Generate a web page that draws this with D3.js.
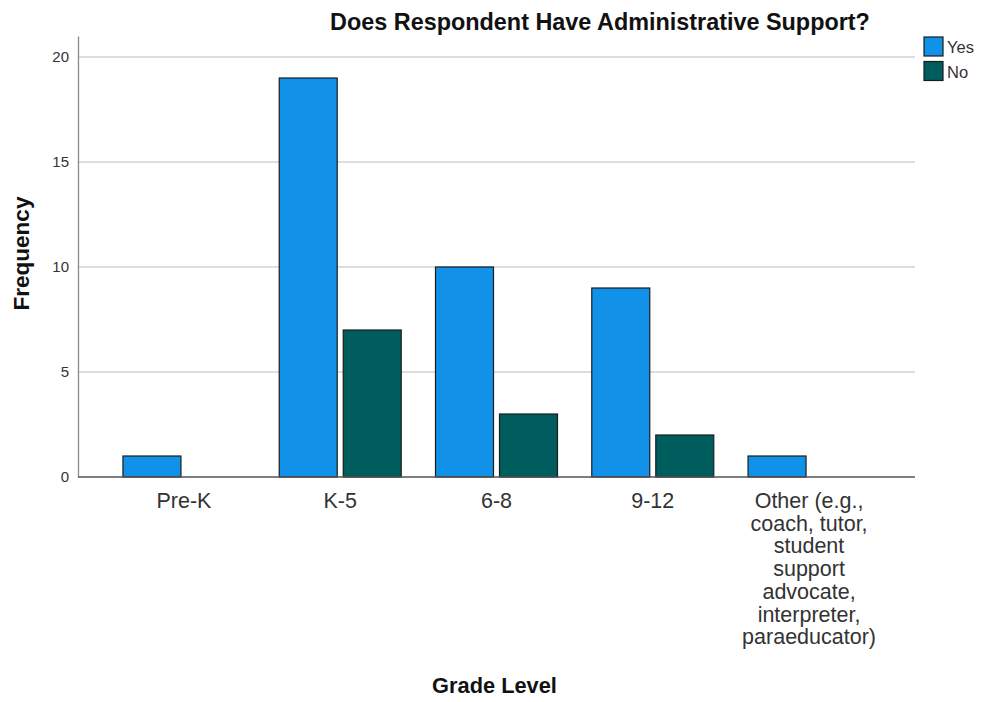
<!DOCTYPE html>
<html>
<head>
<meta charset="utf-8">
<script src="https://cdn.jsdelivr.net/npm/d3@7"></script>
<style>
  html, body { margin: 0; padding: 0; background: #fff; }
  svg { display: block; font-family: Arial, "Liberation Sans", sans-serif; }
</style>
</head>
<body>
<svg id="chart" width="983" height="702"></svg>
<script>
// Grade levels and counts per response
const categories = [
  "Pre-K",
  "K-5",
  "6-8",
  "9-12",
  "Other (e.g., coach, tutor, student support advocate, interpreter, paraeducator)"
];
const categoryLines = [
  ["Pre-K"],
  ["K-5"],
  ["6-8"],
  ["9-12"],
  ["Other (e.g.,", "coach, tutor,", "student", "support", "advocate,", "interpreter,", "paraeducator)"]
];
const seriesNames = ["Yes", "No"];
const yesValues = [1, 19, 10, 9, 1];
const noValues = [0, 7, 3, 2, 0];
const yTicks = [0, 5, 10, 15, 20];
const colors = { Yes: "#1192e8", No: "#005d5d" };

const svg = d3.select("#chart");
const margin = { left: 78, right: 68, top: 36, bottom: 225 };
const W = 983, H = 702;
const plotLeft = margin.left, plotRight = W - margin.right;
const plotTop = margin.top, plotBottom = H - margin.bottom;

const x = d3.scalePoint().domain(categories).range([plotLeft, plotRight]).padding(0.678);
const inner = d3.scaleBand().domain(seriesNames).range([-61, 61]).paddingInner(0.094);
const y = d3.scaleLinear().domain([0, 21]).range([plotBottom, plotTop]);

// gridlines
svg.append("g")
  .selectAll("line")
  .data(yTicks.filter(d => d > 0))
  .join("line")
  .attr("x1", plotLeft).attr("x2", plotRight)
  .attr("y1", d => y(d)).attr("y2", d => y(d))
  .attr("stroke", "#d2d2d2").attr("stroke-width", 1.5);

// y axis
const yAxis = svg.append("g")
  .attr("transform", `translate(${plotLeft},0)`)
  .call(d3.axisLeft(y).tickValues(yTicks).tickSize(0).tickPadding(9));
yAxis.select(".domain").attr("stroke", "#8a8a8a").attr("stroke-width", 1.3);
yAxis.selectAll("text").attr("font-size", 15).attr("fill", "#333")
  .attr("font-family", "Arial, 'Liberation Sans', sans-serif");

// bars
const rows = categories.map((c, i) => ({ cat: c, values: [
  { key: "Yes", value: yesValues[i] },
  { key: "No", value: noValues[i] }
]}));

const groups = svg.append("g").selectAll("g")
  .data(rows).join("g")
  .attr("transform", d => `translate(${x(d.cat)},0)`);

groups.selectAll("rect")
  .data(d => d.values.filter(v => v.value > 0))
  .join("rect")
  .attr("x", d => inner(d.key))
  .attr("width", inner.bandwidth())
  .attr("y", d => y(d.value))
  .attr("height", d => y(0) - y(d.value))
  .attr("fill", d => colors[d.key])
  .attr("stroke", "#1c1c1c")
  .attr("stroke-width", 1.2);

// x axis line
svg.append("line")
  .attr("x1", plotLeft).attr("x2", plotRight)
  .attr("y1", y(0)).attr("y2", y(0))
  .attr("stroke", "#555").attr("stroke-width", 1.3);

// x tick labels
const xl = svg.append("g").selectAll("text")
  .data(categories).join("text")
  .attr("x", d => x(d))
  .attr("y", 508)
  .attr("text-anchor", "middle")
  .attr("font-size", 21.5)
  .attr("fill", "#333");
xl.each(function(d, i) {
  d3.select(this).selectAll("tspan")
    .data(categoryLines[i]).join("tspan")
    .attr("x", x(d))
    .attr("dy", (t, j) => j === 0 ? 0 : 22.7)
    .text(t => t);
});

// titles
svg.append("text")
  .attr("x", 600).attr("y", 30)
  .attr("text-anchor", "middle")
  .attr("font-size", 23.4).attr("font-weight", "bold").attr("fill", "#111")
  .text("Does Respondent Have Administrative Support?");

svg.append("text")
  .attr("x", (plotLeft + plotRight) / 2 - 2).attr("y", 693)
  .attr("text-anchor", "middle")
  .attr("font-size", 21.8).attr("font-weight", "bold").attr("fill", "#111")
  .text("Grade Level");

svg.append("text")
  .attr("transform", `translate(29,${(plotTop + plotBottom) / 2 - 3}) rotate(-90)`)
  .attr("text-anchor", "middle")
  .attr("font-size", 22.5).attr("font-weight", "bold").attr("fill", "#111")
  .text("Frequency");

// legend
const legend = svg.append("g").attr("transform", "translate(924,37)");
const li = legend.selectAll("g").data(seriesNames).join("g")
  .attr("transform", (d, i) => `translate(0,${i * 24.5})`);
li.append("rect")
  .attr("width", 19).attr("height", 19)
  .attr("fill", d => colors[d]).attr("stroke", "#1c1c1c").attr("stroke-width", 1.2);
li.append("text")
  .attr("x", 23).attr("y", 16)
  .attr("font-size", 16.5).attr("fill", "#333")
  .text(d => d);
</script>
</body>
</html>
